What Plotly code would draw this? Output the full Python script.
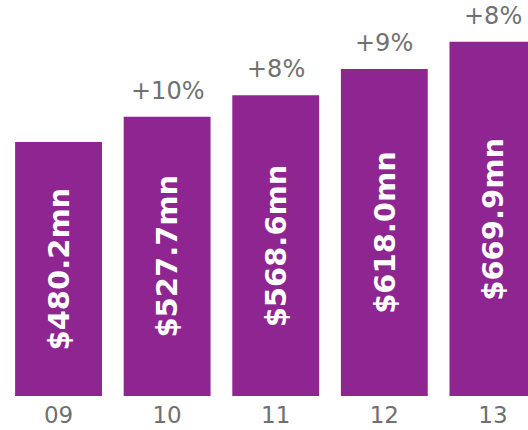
import plotly.graph_objects as go

years = ["09", "10", "11", "12", "13"]
values = [480.2, 527.7, 568.6, 618.0, 669.9]
value_labels = ["$480.2mn", "$527.7mn", "$568.6mn", "$618.0mn", "$669.9mn"]
growth = ["", "+10%", "+8%", "+9%", "+8%"]

xs = list(range(len(years)))
fig = go.Figure()
fig.add_trace(go.Bar(x=xs, y=values, width=0.8, marker=dict(color="#8E2590", line=dict(width=0)),
                     hoverinfo="skip"))

for i, (v, lab, g) in enumerate(zip(values, value_labels, growth)):
    fig.add_annotation(x=i, y=v / 2, text="<b>" + lab + "</b>", textangle=-90, showarrow=False,
                       font=dict(family="DejaVu Sans", size=29, color="white"))
    if g:
        fig.add_annotation(x=i, y=v, text=g, showarrow=False, yanchor="bottom", yshift=10,
                           font=dict(family="DejaVu Sans", size=24, color="#707070"))

fig.update_layout(
    width=528, height=430,
    margin=dict(l=0, r=0, t=0, b=34),
    paper_bgcolor="white", plot_bgcolor="white",
    showlegend=False,
    xaxis=dict(range=[-0.539, 4.323], tickmode="array", tickvals=xs, ticktext=years,
               showgrid=False, zeroline=False, showline=False, ticks="",
               ticklabelstandoff=3,
               tickfont=dict(family="DejaVu Sans", size=23, color="#707070")),
    yaxis=dict(range=[0, 748.6], visible=False, showgrid=False),
)
fig.write_html("out.html")
